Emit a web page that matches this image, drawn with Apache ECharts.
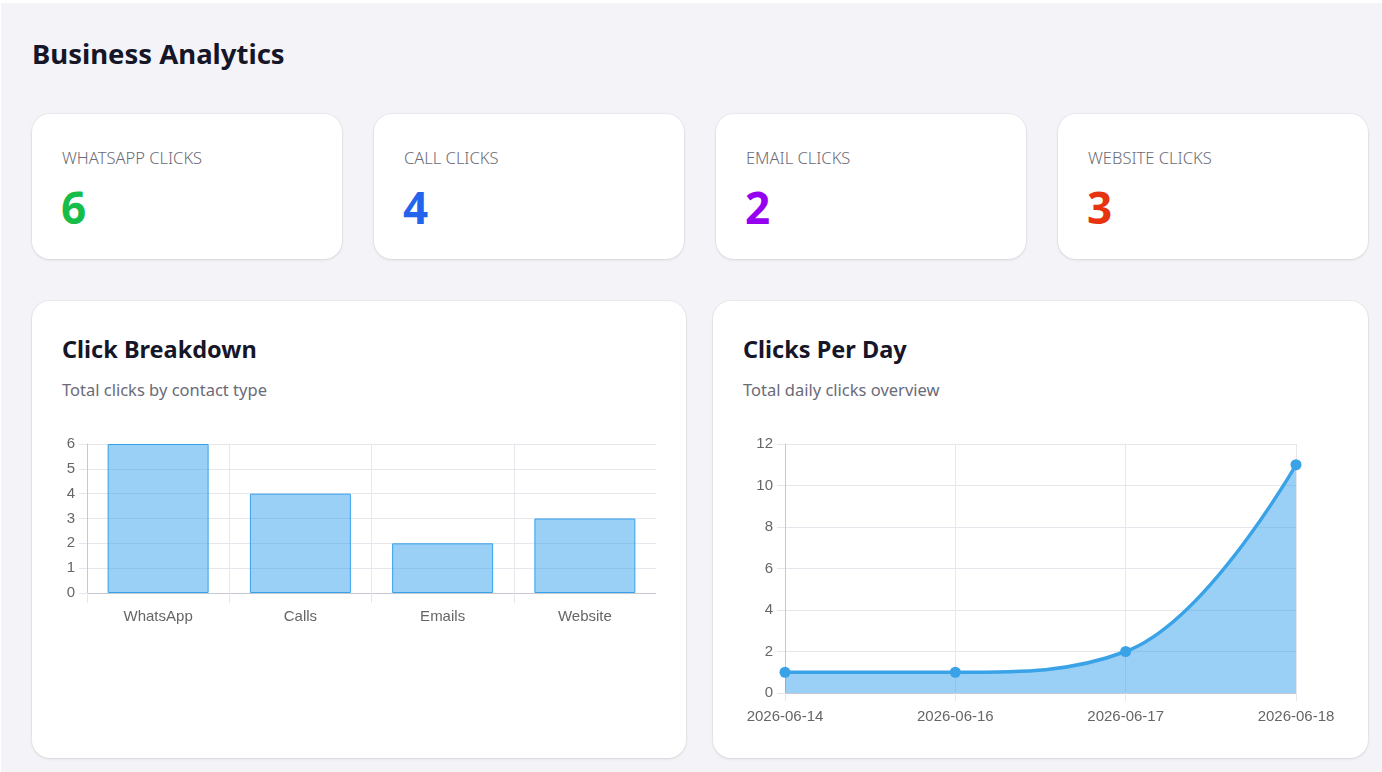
<!DOCTYPE html>
<html>
<head>
<meta charset="utf-8">
<script src="https://cdn.jsdelivr.net/npm/echarts@6/dist/echarts.min.js"></script>
<style>
  html, body { margin: 0; padding: 0; background: #ffffff; }
  body { width: 1382px; height: 772px; overflow: hidden; position: relative; font-family: "Noto Sans", "Open Sans", sans-serif; }
  .page { position: absolute; left: 1px; top: 3px; right: 0; bottom: 0; background: #f3f3f8; }
  h1 { position: absolute; left: 31px; top: 32px; margin: 0; font-size: 27.5px; font-weight: 700; color: #161629; }
  .kpi { position: absolute; top: 111px; width: 310px; height: 145px; background: #fff; border-radius: 18px;
         box-shadow: 0 1px 3px rgba(0,0,0,0.10), 0 0 0 1px rgba(0,0,0,0.03); }
  .kpi .label { position: absolute; left: 30px; top: 32px; font-size: 16.5px; color: #6b6b78; font-weight: 300; }
  .kpi .value { position: absolute; left: 29px; top: 63px; font-size: 44px; font-weight: 700; line-height: 60px; }
  .card { position: absolute; top: 298px; height: 457px; background: #fff; border-radius: 18px;
          box-shadow: 0 1px 3px rgba(0,0,0,0.10), 0 0 0 1px rgba(0,0,0,0.03); }
  .card h2 { position: absolute; left: 30px; top: 32px; margin: 0; font-size: 23.5px; font-weight: 700; color: #161629; }
  .card .sub { position: absolute; left: 30px; top: 77px; font-size: 16.5px; color: #6b6b78; }
  .chart { position: absolute; left: 30px; top: 124px; }
</style>
</head>
<body>
<div class="page">
  <h1>Business Analytics</h1>
  <div id="kpis"></div>
  <div class="card" style="left:31px;width:654px;">
    <h2>Click Breakdown</h2>
    <div class="sub">Total clicks by contact type</div>
    <div id="barChart" class="chart" style="width:594px;height:215px;"></div>
  </div>
  <div class="card" style="left:712px;width:655px;">
    <h2>Clicks Per Day</h2>
    <div class="sub">Total daily clicks overview</div>
    <div id="lineChart" class="chart" style="width:595px;height:315px;"></div>
  </div>
</div>
<script>
// KPI tiles
var kpiLabels = ["WHATSAPP CLICKS", "CALL CLICKS", "EMAIL CLICKS", "WEBSITE CLICKS"];
var kpiValues = [6, 4, 2, 3];
var kpiColors = ["#16bd48", "#2463eb", "#9500f0", "#e5340f"];

// click breakdown
var breakdownCats = ["WhatsApp", "Calls", "Emails", "Website"];
var breakdownVals = [6, 4, 2, 3];

// clicks per day
var dayCats = ["2026-06-14", "2026-06-16", "2026-06-17", "2026-06-18"];
var dayVals = [1, 1, 2, 11];

var kpiBox = document.getElementById("kpis");
kpiLabels.forEach(function (lbl, i) {
  var d = document.createElement("div");
  d.className = "kpi";
  d.style.left = (31 + i * 342) + "px";
  d.innerHTML = '<div class="label">' + lbl + '</div><div class="value" style="color:' + kpiColors[i] + '">' + kpiValues[i] + '</div>';
  kpiBox.appendChild(d);
});

var axisFont = "Liberation Sans, Arial, sans-serif";
var gridColor = "#e6e6ec";
var axisColor = "#c8c8d0";

var barChart = echarts.init(document.getElementById("barChart"));
barChart.setOption({
  animation: false,
  grid: { left: 25, right: 0, top: 19, bottom: 47 },
  xAxis: {
    type: "category",
    data: breakdownCats,
    axisLine: { lineStyle: { color: axisColor } },
    axisTick: { show: true, length: 10, lineStyle: { color: gridColor } },
    splitLine: { show: true, lineStyle: { color: gridColor } },
    axisLabel: { color: "#666", fontSize: 15, fontFamily: axisFont, margin: 16 }
  },
  yAxis: {
    type: "value",
    min: 0, max: 6, interval: 1,
    axisLine: { show: true, lineStyle: { color: axisColor } },
    axisTick: { show: true, length: 8, lineStyle: { color: gridColor } },
    splitLine: { lineStyle: { color: gridColor } },
    axisLabel: { color: "#666", fontSize: 15, fontFamily: axisFont, margin: 12 }
  },
  series: [{
    type: "bar",
    data: breakdownVals,
    barWidth: "71%",
    itemStyle: { color: "rgba(54,162,235,0.5)", borderColor: "#36a2eb", borderWidth: 1 }
  }]
});

var lineChart = echarts.init(document.getElementById("lineChart"));
lineChart.setOption({
  animation: false,
  grid: { left: 42, right: 42, top: 19, bottom: 47 },
  xAxis: {
    type: "category",
    data: dayCats,
    boundaryGap: false,
    axisLine: { lineStyle: { color: axisColor } },
    axisTick: { show: true, length: 8, lineStyle: { color: gridColor } },
    splitLine: { show: true, lineStyle: { color: gridColor } },
    axisLabel: { color: "#666", fontSize: 15, fontFamily: axisFont, margin: 16 }
  },
  yAxis: {
    type: "value",
    min: 0, max: 12, interval: 2,
    axisLine: { show: true, lineStyle: { color: axisColor } },
    axisTick: { show: true, length: 8, lineStyle: { color: gridColor } },
    splitLine: { lineStyle: { color: gridColor } },
    axisLabel: { color: "#666", fontSize: 15, fontFamily: axisFont, margin: 12 }
  },
  series: [{
    type: "line",
    data: dayVals,
    smooth: 0.4,
    symbol: "circle",
    symbolSize: 11,
    lineStyle: { color: "#3aa3e8", width: 3.5 },
    itemStyle: { color: "#3aa3e8" },
    areaStyle: { color: "rgba(54,162,235,0.5)", opacity: 1 }
  }]
});
</script>
</body>
</html>
